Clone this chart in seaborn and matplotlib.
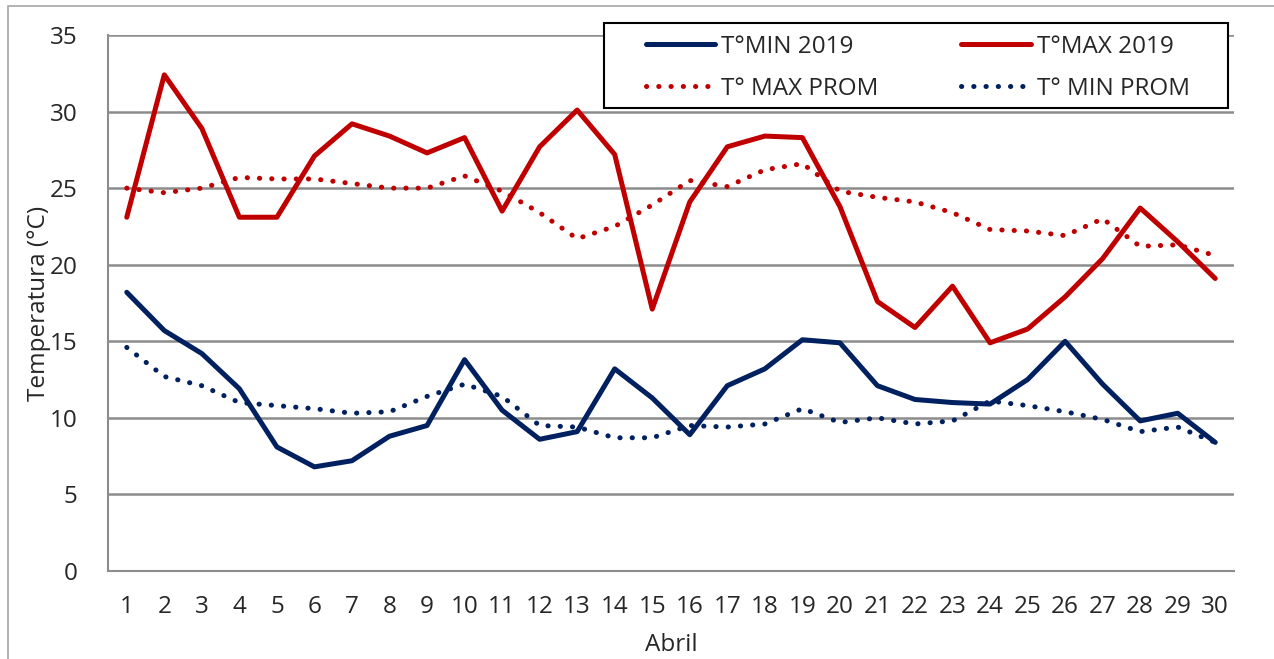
import numpy as np
import pandas as pd
import matplotlib
matplotlib.use("Agg")
import matplotlib.pyplot as plt
import seaborn as sns
from matplotlib.patches import Rectangle
from matplotlib.ticker import MultipleLocator

dias = list(range(1, 31))

tmin_2019 = [18.2, 15.7, 14.2, 11.9, 8.1, 6.8, 7.2, 8.8, 9.5, 13.8,
             10.5, 8.6, 9.1, 13.2, 11.3, 8.9, 12.1, 13.2, 15.1, 14.9,
             12.1, 11.2, 11.0, 10.9, 12.5, 15.0, 12.2, 9.8, 10.3, 8.4]
tmax_2019 = [23.1, 32.4, 28.9, 23.1, 23.1, 27.1, 29.2, 28.4, 27.3, 28.3,
             23.5, 27.7, 30.1, 27.2, 17.1, 24.1, 27.7, 28.4, 28.3, 23.8,
             17.6, 15.9, 18.6, 14.9, 15.8, 17.9, 20.4, 23.7, 21.5, 19.1]
tmax_prom = [25.0, 24.7, 25.0, 25.7, 25.6, 25.6, 25.3, 25.0, 25.0, 25.8,
             24.8, 23.4, 21.7, 22.5, 23.9, 25.5, 25.1, 26.2, 26.6, 24.8,
             24.4, 24.1, 23.4, 22.3, 22.2, 21.9, 23.0, 21.2, 21.3, 20.6]
tmin_prom = [14.6, 12.7, 12.1, 11.0, 10.8, 10.6, 10.3, 10.4, 11.4, 12.2,
             11.4, 9.5, 9.4, 8.7, 8.7, 9.5, 9.4, 9.6, 10.6, 9.7,
             10.0, 9.6, 9.8, 11.1, 10.8, 10.4, 9.9, 9.1, 9.4, 8.4]

ROJO = "#C00000"
AZUL = "#002060"
GRIS = "#8C8C8C"
FS = 17.5
W, H = 1274, 659

sns.set_style("white")
plt.rcParams["font.family"] = ["Open Sans", "DejaVu Sans"]

fig = plt.figure(figsize=(W / 100, H / 100), dpi=100)
ax = fig.add_axes([108 / W, 1 - 571 / H, (1234 - 108) / W, (571 - 35) / H])

# marco exterior del grafico
fig.patches.append(Rectangle((8 / W, -0.1), 1.2, 1.1 - 6 / H, transform=fig.transFigure,
                             fill=False, edgecolor="#A6A6A6", linewidth=1.2))

dotted = (0, (0.05, 2.4))
lw = 3.6
sns.lineplot(x=dias, y=tmin_2019, ax=ax, color=AZUL, linewidth=lw, label="T°MIN 2019",
             solid_capstyle="round", solid_joinstyle="round")
sns.lineplot(x=dias, y=tmax_prom, ax=ax, color=ROJO, linewidth=lw, label="T° MAX PROM",
             linestyle=dotted, dash_capstyle="round")
sns.lineplot(x=dias, y=tmax_2019, ax=ax, color=ROJO, linewidth=lw, label="T°MAX 2019",
             solid_capstyle="round", solid_joinstyle="round")
sns.lineplot(x=dias, y=tmin_prom, ax=ax, color=AZUL, linewidth=lw, label="T° MIN PROM",
             linestyle=dotted, dash_capstyle="round")

# leyenda sin marco propio; el recuadro se dibuja aparte
leg = ax.legend(ncol=2, loc="upper left", bbox_to_anchor=(646 / W, 1 - 35 / H),
                bbox_transform=fig.transFigure, fontsize=FS, frameon=False,
                handlelength=2.85, handletextpad=0.25, columnspacing=3.4, borderpad=0,
                labelspacing=0.73, borderaxespad=0)
leg.set_zorder(6)
caja = Rectangle((604 / W, 1 - 108 / H), (1228 - 604) / W, 85 / H,
                 transform=fig.transFigure, fill=True, facecolor="white",
                 edgecolor="black", linewidth=1.5, zorder=5, clip_on=False)
ax.add_artist(caja)

ax.set_xlim(0.5, 30.5)
ax.set_ylim(0, 35)
ax.set_xticks(dias)
ax.set_xticklabels([str(d) for d in dias])
ax.xaxis.set_minor_locator(MultipleLocator(1, offset=0.5))
ax.yaxis.set_major_locator(MultipleLocator(5))
ax.tick_params(axis="x", which="major", length=0, pad=17, labelsize=FS)
ax.tick_params(axis="x", which="minor", length=7, width=1.5, color=GRIS, direction="out")
ax.tick_params(axis="y", which="major", length=7, width=1.5, color=GRIS, pad=15, labelsize=FS)
ax.grid(axis="y", color=GRIS, linewidth=1.8)
ax.set_axisbelow(True)
for lado in ["top", "right"]:
    ax.spines[lado].set_visible(False)
for lado in ["left", "bottom"]:
    ax.spines[lado].set_color(GRIS)
    ax.spines[lado].set_linewidth(1.5)

ax.set_xlabel("Abril", fontsize=FS, labelpad=10.5)
ax.set_ylabel("Temperatura (°C)", fontsize=FS, labelpad=-1)

fig.savefig("out.png", dpi=100)
